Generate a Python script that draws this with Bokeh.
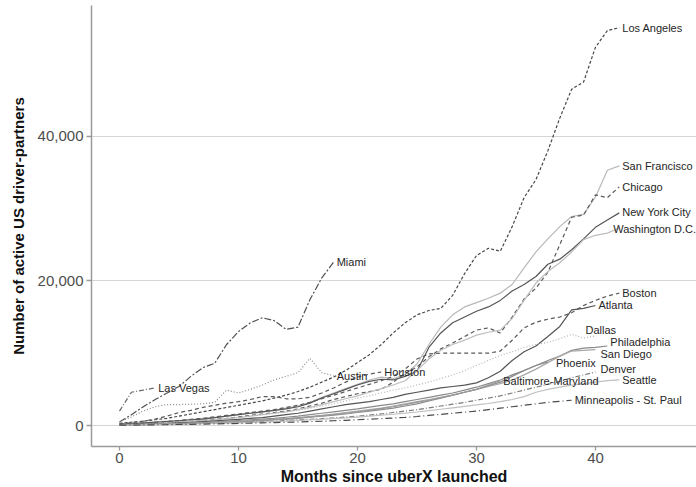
from bokeh.plotting import figure
from bokeh.models import Range1d, NumeralTickFormatter, FixedTicker
from bokeh.core.properties import value
from bokeh.embed import file_html
from bokeh.resources import INLINE

cities = ["Los Angeles", "San Francisco", "Chicago", "New York City", "Washington D.C.",
          "Boston", "Atlanta", "Dallas", "Philadelphia", "San Diego", "Phoenix", "Denver",
          "Baltimore-Maryland", "Seattle", "Minneapolis - St. Paul", "Miami", "Austin",
          "Houston", "Las Vegas"]

los_angeles = [300, 450, 600, 800, 1000, 1300, 1600, 1900, 2200, 2500, 2800, 3100, 3400, 3800, 4200,
               4700, 5300, 6000, 6700, 7600, 8700, 9800, 11200, 12800, 14200, 15300, 15900, 16200,
               18000, 21000, 23500, 24500, 24100, 27500, 31500, 34000, 38000, 42500, 46500, 47500,
               52300, 54600, 55000]
san_francisco = [200, 300, 400, 500, 600, 700, 800, 1000, 1100, 1300, 1500, 1700, 1900, 2100, 2400,
                 2700, 3200, 3900, 4500, 5100, 5700, 6300, 6700, 6500, 7000, 8500, 11200, 13600,
                 15300, 16400, 17000, 17600, 18300, 19500, 21800, 24000, 25800, 27500, 28900, 29200,
                 31600, 35300, 35900]
chicago = [100, 150, 200, 300, 400, 500, 600, 700, 850, 1000, 1200, 1400, 1600, 1800, 2000, 2300,
           2700, 3100, 3600, 4000, 4400, 4700, 5000, 6000, 7200, 8100, 9500, 10600, 11400, 12300,
           13200, 13500, 12800, 15000, 17500, 19000, 21200, 25000, 28800, 29100, 31900, 31500, 33000]
new_york = [150, 250, 350, 450, 550, 650, 800, 900, 1100, 1300, 1500, 1700, 1900, 2100, 2300, 2600,
            3100, 3800, 4400, 5000, 5600, 6100, 6400, 6300, 6800, 7500, 10800, 12800, 14200, 15000,
            15800, 16400, 17300, 18600, 19500, 20600, 22300, 23000, 24300, 25800, 27400, 28400, 29400]
washington = [100, 150, 200, 300, 400, 500, 600, 700, 800, 950, 1100, 1300, 1500, 1700, 1900, 2200,
              2500, 2900, 3300, 3700, 4100, 4600, 5100, 5600, 6200, 7600, 9200, 10400, 11200, 11800,
              12500, 12900, 13200, 14800, 17300, 19700, 21300, 22500, 24000, 25700, 26300, 26600, 27300]
boston = [150, 250, 350, 450, 550, 700, 850, 1000, 1200, 1400, 1600, 1800, 2000, 2200, 2500, 2800,
          3200, 3700, 4200, 4700, 5200, 5700, 6200, 6800, 7800, 9200, 9900, 10000, 10000, 10000, 10000,
          10000, 10300, 11800, 13500, 14300, 14700, 15000, 15600, 16600, 17300, 17900, 18300]
atlanta = [100, 150, 200, 250, 300, 400, 450, 550, 650, 750, 850, 1000, 1100, 1300, 1500, 1700, 2000,
           2300, 2600, 2900, 3100, 3300, 3600, 3900, 4300, 4600, 4900, 5200, 5400, 5600, 5900, 6600,
           7500, 9000, 10200, 11000, 12300, 13700, 16000, 16200, 16600]
dallas = [100, 150, 200, 300, 400, 500, 600, 700, 800, 950, 1100, 1300, 1500, 1700, 1900, 2100, 2400,
          2700, 3000, 3400, 3800, 4100, 4500, 4900, 5200, 5600, 6000, 6500, 7000, 7600, 8300, 9000,
          9700, 10200, 10800, 11200, 11500, 12000, 12600, 12100, 12400]
philadelphia = [100, 120, 150, 200, 250, 300, 350, 400, 500, 600, 700, 800, 900, 1000, 1150, 1300,
                1500, 1700, 1900, 2100, 2300, 2550, 2800, 3000, 3300, 3600, 3900, 4200, 4500, 4900,
                5300, 5800, 6300, 7000, 7600, 8300, 9000, 9600, 10400, 10700, 10800, 11000]
san_diego = [80, 100, 130, 160, 200, 250, 300, 350, 400, 480, 550, 650, 750, 850, 950, 1100, 1250,
             1400, 1600, 1800, 2000, 2200, 2400, 2700, 3000, 3300, 3600, 3900, 4200, 4600, 5000, 5400,
             5800, 6300, 7000, 7800, 8700, 9600, 10300, 10400, 10500]
phoenix = [80, 100, 130, 160, 200, 250, 300, 350, 400, 450, 520, 600, 700, 800, 900, 1000, 1150, 1300,
           1450, 1600, 1800, 2000, 2200, 2400, 2700, 3000, 3400, 3800, 4200, 4600, 5000, 5500, 6000,
           6800, 7600, 8300, 8800]
denver = [80, 100, 120, 150, 180, 220, 260, 300, 350, 400, 450, 500, 560, 620, 700, 780, 870, 960,
          1060, 1170, 1300, 1450, 1600, 1800, 2000, 2200, 2450, 2700, 2950, 3200, 3500, 3800, 4100,
          4500, 4900, 5300, 5700, 6100, 6600, 7000, 7400]
baltimore = [80, 100, 130, 160, 200, 250, 300, 350, 400, 470, 550, 630, 720, 820, 930, 1050, 1200,
             1350, 1500, 1700, 1900, 2100, 2350, 2600, 2900, 3200, 3500, 3850, 4200, 4600, 5000, 5600,
             6200]
seattle = [50, 70, 90, 120, 150, 180, 210, 250, 290, 330, 380, 430, 490, 550, 620, 700, 780, 870, 960,
           1060, 1170, 1290, 1420, 1560, 1710, 1870, 2050, 2250, 2450, 2650, 2850, 3050, 3300, 3600,
           4000, 4600, 5000, 5300, 5600, 5800, 6000, 6200, 6300]
minneapolis = [50, 60, 80, 100, 120, 150, 170, 200, 230, 260, 300, 330, 370, 410, 450, 500, 550, 600,
               660, 720, 800, 880, 960, 1040, 1120, 1250, 1400, 1550, 1700, 1850, 2000, 2200, 2400,
               2600, 2800, 3000, 3200, 3350, 3500]
miami = [500, 1500, 2600, 3600, 4500, 5400, 6800, 8000, 8600, 11200, 13000, 14200, 14900, 14500,
         13300, 13600, 17400, 20400, 22600]
austin = [500, 1200, 2000, 2600, 2900, 2900, 2950, 3000, 3200, 4900, 4500, 5000, 5600, 6300, 6800,
          7300, 9300, 7300, 6900]
houston = [200, 400, 600, 900, 1300, 1800, 2100, 2500, 2800, 3100, 3300, 3600, 4000, 4000, 3700, 3700,
           3900, 4500, 5200, 6000, 6700, 7100, 7400]
las_vegas = [2000, 4600, 4900, 5200]

series = [los_angeles, san_francisco, chicago, new_york, washington, boston, atlanta, dallas,
          philadelphia, san_diego, phoenix, denver, baltimore, seattle, minneapolis, miami, austin,
          houston, las_vegas]

x_ticks = [0, 10, 20, 30, 40]
y_ticks = [0, 20000, 40000]

# styles: (color, dash)
styles = {
    "Los Angeles": ("#474747", "3 2"),
    "San Francisco": ("#b8b8b8", "solid"),
    "Chicago": ("#5a5a5a", "4 3"),
    "New York City": ("#555555", "solid"),
    "Washington D.C.": ("#bdbdbd", "solid"),
    "Boston": ("#5a5a5a", "4 3"),
    "Atlanta": ("#555555", "solid"),
    "Dallas": ("#b5b5b5", "1 2"),
    "Philadelphia": ("#8a8a8a", "solid"),
    "San Diego": ("#a8a8a8", "solid"),
    "Phoenix": ("#8c8c8c", "solid"),
    "Denver": ("#7a7a7a", "5 2 1 2"),
    "Baltimore-Maryland": ("#9a9a9a", "solid"),
    "Seattle": ("#c0c0c0", "solid"),
    "Minneapolis - St. Paul": ("#4a4a4a", "7 3 1 3"),
    "Miami": ("#505050", "7 2 2 2"),
    "Austin": ("#8a8a8a", "1 2"),
    "Houston": ("#5a5a5a", "4 3"),
    "Las Vegas": ("#6a6a6a", "5 2 1 2"),
}
# label nudges in screen pixels (x, y; y positive = down)
nudges = {
    "Dallas": (-10, -6), "Philadelphia": (3, -4), "San Diego": (5, 4), "Phoenix": (8, 1),
    "Denver": (5, -3), "New York City": (3, -1), "Washington D.C.": (-6, 1),
}

p = figure(width=696, height=487, output_backend="svg", toolbar_location=None,
           x_range=Range1d(-2.353, 48.49), y_range=Range1d(-2897, 58069),
           min_border_left=91, min_border_right=0, min_border_top=5, min_border_bottom=40)
p.outline_line_color = None
p.background_fill_color = "white"
p.border_fill_color = "white"
p.xgrid.grid_line_color = None
p.ygrid.grid_line_color = "#d6d6d6"
p.ygrid.grid_line_width = 1.2

p.xaxis.ticker = FixedTicker(ticks=x_ticks)
p.yaxis.ticker = FixedTicker(ticks=y_ticks)
p.yaxis.formatter = NumeralTickFormatter(format="0,0")
for ax in (p.xaxis[0], p.yaxis[0]):
    ax.axis_line_color = "#9a9a9a"
    ax.axis_line_width = 1.5
    ax.major_tick_line_color = "#9a9a9a"
    ax.major_tick_line_width = 1.3
    ax.major_tick_in = 0
    ax.minor_tick_line_color = None
    ax.major_label_text_font = "Liberation Sans"
    ax.major_label_text_font_size = "15px"
    ax.major_label_text_color = "#4d4d4d"
    ax.axis_label_text_font = "Liberation Sans"
    ax.axis_label_text_font_style = "bold"
    ax.axis_label_text_color = "#111111"
p.xaxis.axis_label = "Months since uberX launched"
p.xaxis.axis_label_text_font_size = "16px"
p.xaxis.major_tick_out = 4
p.xaxis.major_label_standoff = 2
p.xaxis.axis_label_standoff = 2
p.yaxis.axis_label = "Number of active US driver-partners"
p.yaxis.axis_label_text_font_size = "15px"
p.yaxis.major_tick_out = 5
p.yaxis.major_label_standoff = 3
p.yaxis.axis_label_standoff = 8

lab_x, lab_y, lab_t, lab_dx, lab_dy = [], [], [], [], []
for name, vals in zip(cities, series):
    color, dash = styles[name]
    months = list(range(len(vals)))
    p.line(months, vals, line_color=color, line_width=1.2, line_dash=dash)
    dx, dy = nudges.get(name, (3, 0))
    lab_x.append(months[-1])
    lab_y.append(vals[-1])
    lab_t.append(name)
    lab_dx.append(dx)
    lab_dy.append(dy)

p.text(x=lab_x, y=lab_y, text=lab_t, x_offset=lab_dx, y_offset=lab_dy,
       text_font=value("Liberation Sans"), text_font_size="11px", text_color="#262626",
       text_align="left", text_baseline="middle")

open("out.html", "w").write(file_html(p, INLINE))
